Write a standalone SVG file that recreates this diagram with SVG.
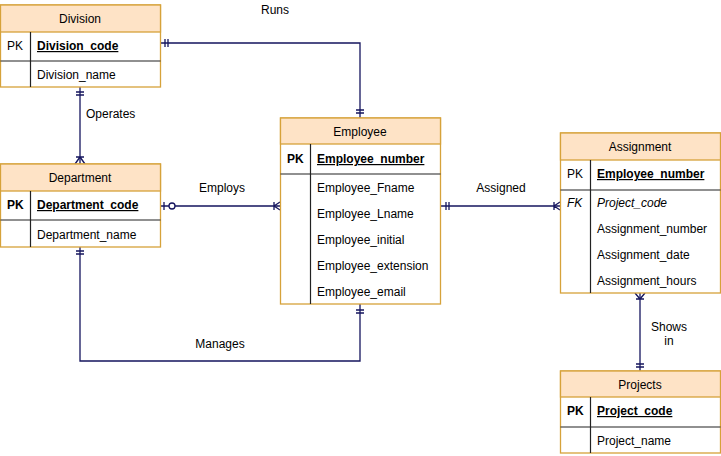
<svg xmlns="http://www.w3.org/2000/svg" width="721" height="456" viewBox="0 0 721 456">
<style>
.box{fill:#fff;stroke:#d6a23a;stroke-width:1.3}
.hdr{fill:#fee3c6;stroke:#d6a23a;stroke-width:1.3}
.sep{stroke:#222;stroke-width:1.2}
.t{font-family:"Liberation Sans",Arial,sans-serif;font-size:12px;fill:#000}
.c{text-anchor:middle}
.b{font-weight:bold}
.u{font-weight:bold;text-decoration:underline}
.i{font-style:italic}
.ln{fill:none;stroke:#14145e;stroke-width:1.3}
</style>
<rect width="721" height="456" fill="#fff"/>
<g id="connectors">
  <!-- Runs -->
  <path class="ln" d="M160,43 H360 V118"/>
  <path class="ln" d="M165,39 V47 M168,39 V47 M356,110 H364 M356,113 H364"/>
  <!-- Operates -->
  <path class="ln" d="M80,87 V164"/>
  <path class="ln" d="M76,92 H84 M76,95 H84 M76,157 H84 M80,157 L75,164 M80,157 L85,164"/>
  <!-- Employs -->
  <path class="ln" d="M160,206 H169 M175,206 H280"/>
  <circle cx="172" cy="206" r="3" fill="#fff" stroke="#14145e" stroke-width="1.3"/>
  <path class="ln" d="M164,202 V210 M274,202 V210 M274,206 L280,202 M274,206 L280,210"/>
  <!-- Assigned -->
  <path class="ln" d="M440,206 H560"/>
  <path class="ln" d="M446,202 V210 M449,202 V210 M554,202 V210 M554,206 L560,202 M554,206 L560,210"/>
  <!-- Manages -->
  <path class="ln" d="M80,247 V361 H360 V304"/>
  <path class="ln" d="M76,251 H84 M76,254 H84 M356,310 H364 M356,313 H364"/>
  <!-- Shows in -->
  <path class="ln" d="M640,293 V371"/>
  <path class="ln" d="M636,299 H644 M640,299 L635,293 M640,299 L645,293 M636,364 H644 M636,367 H644"/>
</g>
<g id="labels">
  <text class="t c" x="275" y="14">Runs</text>
  <text class="t" x="86" y="118">Operates</text>
  <text class="t c" x="222" y="192">Employs</text>
  <text class="t c" x="501" y="192">Assigned</text>
  <text class="t c" x="220" y="348">Manages</text>
  <text class="t c" x="669" y="331">Shows</text>
  <text class="t c" x="669" y="345">in</text>
</g>
<g id="division">
  <rect class="box" x="0.5" y="5" width="160" height="82"/>
  <rect class="hdr" x="0.5" y="5" width="160" height="27"/>
  <line class="sep" x1="0.5" y1="61" x2="160.5" y2="61"/>
  <line class="sep" x1="30.5" y1="32" x2="30.5" y2="87"/>
  <text class="t c" x="80" y="23">Division</text>
  <text class="t" x="7" y="50">PK</text>
  <text class="t u" x="37" y="50">Division_code</text>
  <text class="t" x="37" y="79">Division_name</text>
</g>
<g id="department">
  <rect class="box" x="0.5" y="164" width="160" height="83"/>
  <rect class="hdr" x="0.5" y="164" width="160" height="27"/>
  <line class="sep" x1="0.5" y1="220" x2="160.5" y2="220"/>
  <line class="sep" x1="30.5" y1="191" x2="30.5" y2="247"/>
  <text class="t c" x="80" y="182">Department</text>
  <text class="t b" x="7" y="209">PK</text>
  <text class="t u" x="37" y="209">Department_code</text>
  <text class="t" x="37" y="239">Department_name</text>
</g>
<g id="employee">
  <rect class="box" x="280.5" y="118" width="160" height="186"/>
  <rect class="hdr" x="280.5" y="118" width="160" height="26"/>
  <line class="sep" x1="280.5" y1="174" x2="440.5" y2="174"/>
  <line class="sep" x1="310.5" y1="144" x2="310.5" y2="304"/>
  <text class="t c" x="360" y="136">Employee</text>
  <text class="t b" x="287" y="163">PK</text>
  <text class="t u" x="317" y="163">Employee_number</text>
  <text class="t" x="317" y="192">Employee_Fname</text>
  <text class="t" x="317" y="218">Employee_Lname</text>
  <text class="t" x="317" y="244">Employee_initial</text>
  <text class="t" x="317" y="270">Employee_extension</text>
  <text class="t" x="317" y="296">Employee_email</text>
</g>
<g id="assignment">
  <rect class="box" x="560.5" y="133" width="160" height="160"/>
  <rect class="hdr" x="560.5" y="133" width="160" height="27"/>
  <line class="sep" x1="560.5" y1="190" x2="720.5" y2="190"/>
  <line class="sep" x1="590.5" y1="160" x2="590.5" y2="293"/>
  <text class="t c" x="640" y="151">Assignment</text>
  <text class="t" x="567" y="178">PK</text>
  <text class="t u" x="597" y="178">Employee_number</text>
  <text class="t i" x="567" y="207">FK</text>
  <text class="t i" x="597" y="207">Project_code</text>
  <text class="t" x="597" y="233">Assignment_number</text>
  <text class="t" x="597" y="259">Assignment_date</text>
  <text class="t" x="597" y="285">Assignment_hours</text>
</g>
<g id="projects">
  <rect class="box" x="560.5" y="371" width="160" height="82"/>
  <rect class="hdr" x="560.5" y="371" width="160" height="26"/>
  <line class="sep" x1="560.5" y1="427" x2="720.5" y2="427"/>
  <line class="sep" x1="590.5" y1="397" x2="590.5" y2="453"/>
  <text class="t c" x="640" y="389">Projects</text>
  <text class="t b" x="567" y="415">PK</text>
  <text class="t u" x="597" y="415">Project_code</text>
  <text class="t" x="597" y="445">Project_name</text>
</g>
</svg>
